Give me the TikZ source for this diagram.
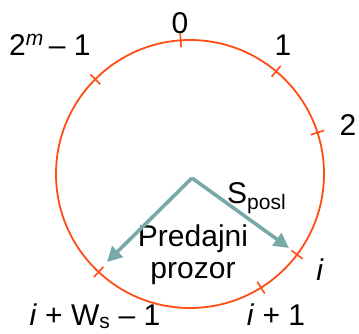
\documentclass[tikz,border=0pt]{standalone}
\usepackage{fontspec}
\setmainfont{Liberation Sans}
\usetikzlibrary{arrows.meta,calc}
\definecolor{ringc}{HTML}{FF4D14}
\definecolor{arrc}{HTML}{78A9A9}
\begin{document}
\begin{tikzpicture}[x=1pt,y=1pt,
  ring/.style={draw=ringc,line width=1.8pt},
  tick/.style={draw=ringc,line width=1.6pt},
  ptr/.style={draw=arrc,line width=3.6pt,-{Triangle[length=15pt,width=15pt]}},
  lbl/.style={font=\fontsize{30}{32}\selectfont,inner sep=0pt,anchor=base}]
\useasboundingbox (0,0) rectangle (359,333);
\coordinate (c) at (190,159);
\draw[ring] (c) circle (134);
\foreach \a in {94,50,18,-37,-58,-133,135}
  \draw[tick] ($(c)+(\a:127)$) -- ($(c)+(\a:141)$);
\node[lbl] (l0) at (180,300) {0};
\node[lbl,anchor=base west] (lm) at (9,278) {2\textsuperscript{\textit{m}}\,– 1};
\node[lbl] (l1) at (283,278) {1};
\node[lbl] (l2) at (348,198) {2};
\node[lbl] (li) at (320,53) {\textit{i}};
\node[lbl] (li1) at (276,8) {\textit{i} + 1};
\node[lbl] (liw) at (95,8) {\textit{i} + W\textsubscript{s} – 1};
\node[lbl,anchor=base west] (sp) at (227,130) {S\textsubscript{posl}};
\node[lbl,anchor=base] (pr) at (193,87) {Predajni};
\node[lbl,anchor=base] (pz) at (193,55) {prozor};
\coordinate (apex) at (192,155);
\coordinate (el) at (107,71);
\coordinate (er) at (289,85);
\draw[ptr] (apex) -- (el);
\draw[ptr] (apex) -- (er);
\end{tikzpicture}
\end{document}
